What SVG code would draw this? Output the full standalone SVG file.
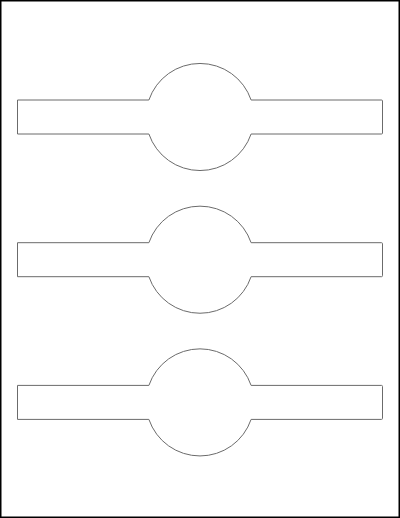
<svg xmlns="http://www.w3.org/2000/svg" width="400" height="518" viewBox="0 0 400 518">
<style>
.page{fill:#fff;stroke:#000;stroke-width:1.5}
.label{fill:#fff;stroke:#6b6b6b;stroke-width:1}
</style>
<defs>
<path id="shape" d="M 17.5 -17 H 148.9 A 54 54 0 0 1 251.1 -17 H 381.5 Q 382.5 -17 382.5 -16 V 16 Q 382.5 17 381.5 17 H 251.1 A 54 54 0 0 1 148.9 17 H 17.5 Z"/>
</defs>
<rect class="page" x="0.75" y="0.75" width="398.5" height="516.5"/>
<g id="label1"><use href="#shape" class="label" transform="translate(0,117)"/></g>
<g id="label2"><use href="#shape" class="label" transform="translate(0,259.7)"/></g>
<g id="label3"><use href="#shape" class="label" transform="translate(0,402.4)"/></g>
<g id="connectors"/>
</svg>
